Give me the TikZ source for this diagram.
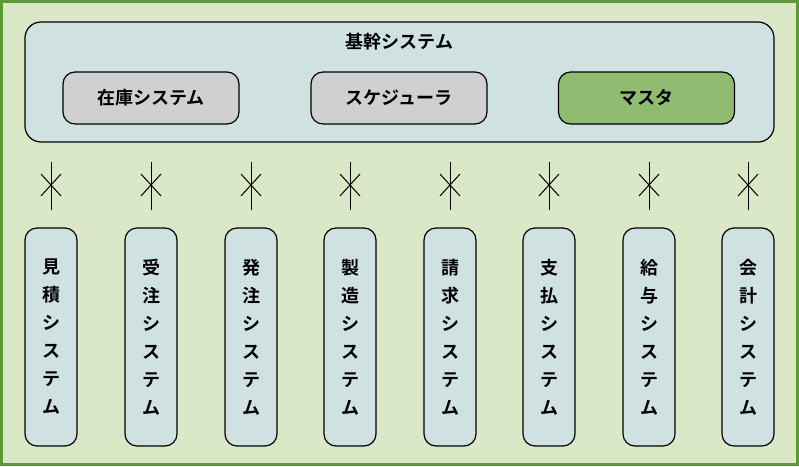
\documentclass[tikz,border=0pt]{standalone}
\usepackage{fontspec}
\newfontfamily\jp{Noto Sans CJK JP}[BoldFont={* Bold}]
\definecolor{bg}{HTML}{DAE8C8}
\definecolor{bd}{HTML}{5B9A32}
\definecolor{bl}{HTML}{D0E1E1}
\definecolor{gr}{HTML}{D0D0D0}
\definecolor{gn}{HTML}{8FBC70}
\begin{document}
\begin{tikzpicture}[x=1pt,y=-1pt,
  sub/.style={draw=black,line width=1.2pt,rounded corners=12pt,minimum width=176pt,minimum height=52pt,font=\jp\bfseries\fontsize{18}{20}\selectfont},
  vbox/.style={draw=black,line width=1.2pt,fill=bl,rounded corners=12pt,minimum width=52pt,minimum height=218pt,font=\jp\bfseries\fontsize{18}{28}\selectfont,align=center},
  link/.style={line width=1pt}]
\fill[bd] (0,0) rectangle (799,466);
\fill[bg] (3,3) rectangle (796,463);
\node[draw=black,line width=1.2pt,fill=bl,rounded corners=16pt,minimum width=749pt,minimum height=120pt] (core) at (399.5,82) {};
\node[font=\jp\bfseries\fontsize{18}{20}\selectfont] (title) at (399.5,42) {基幹システム};
\node[sub,fill=gr] (zaiko) at (151,98) {在庫システム};
\node[sub,fill=gr] (sched) at (399,98) {スケジューラ};
\node[sub,fill=gn] (master) at (646.5,98) {マスタ};
\foreach \x/\t [count=\i] in {51/見\\積\\シ\\ス\\テ\\ム,151/受\\注\\シ\\ス\\テ\\ム,251/発\\注\\シ\\ス\\テ\\ム,350/製\\造\\シ\\ス\\テ\\ム,450/請\\求\\シ\\ス\\テ\\ム,549/支\\払\\シ\\ス\\テ\\ム,649/給\\与\\シ\\ス\\テ\\ム,748/会\\計\\シ\\ス\\テ\\ム}{
  \node[vbox] (s\i) at (\x,337) {\t};
  \coordinate (a\i) at (\x,162);
  \coordinate (b\i) at (\x,210);
  \draw[link] (a\i) -- (b\i);
  \draw[link] ([shift={(-10,-11)}]\x,185) -- ([shift={(10,11)}]\x,185);
  \draw[link] ([shift={(10,-11)}]\x,185) -- ([shift={(-10,11)}]\x,185);
}
\end{tikzpicture}
\end{document}
